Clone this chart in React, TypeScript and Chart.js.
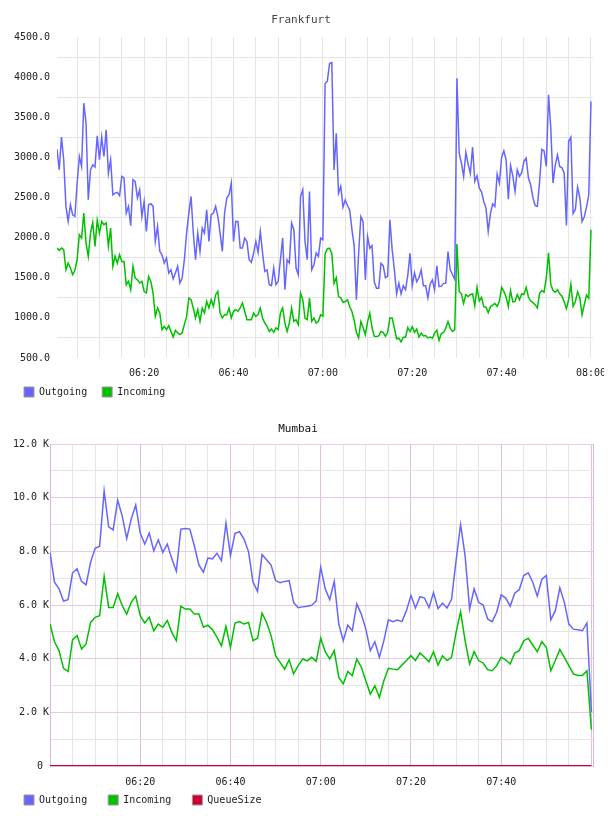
import React, { useEffect, useRef } from 'react';
import { Chart, registerables } from 'chart.js';

Chart.register(...registerables);

const FONT = '"DejaVu Sans Mono", monospace';
const BLUE = '#6666ff';
const GREEN = '#00c000';
const RED = '#cc0033';
const GRID_GREY = '#e4e4e4';
const GRID_PURPLE_H = '#e6cbe6';
const GRID_PURPLE_V = '#dcc0dc';
const BORDER_PURPLE = '#d8b8d8';

// ---------- Frankfurt (30 s samples, minutes after 06:00) ----------
const frankfurtStartMin = 0.5;
const frankfurtStepMin = 0.5;

const frankfurtOutgoing = [
  3103, 2845, 3252, 2970, 2389, 2202, 2410, 2285, 2264, 2671, 3011, 2887, 3675, 3426, 2472, 2845, 2908, 2879, 3268, 2970,
  3252, 3011, 3343, 2804, 2970, 2534, 2555, 2563, 2522, 2762, 2742, 2306, 2389, 2148, 2721, 2700, 2493, 2596, 2264, 2451,
  2077, 2410, 2422, 2389, 1953, 2140, 1829, 1787, 1683, 1746, 1559, 1600, 1484, 1559, 1642, 1434, 1496, 1725, 2057, 2306,
  2513, 2057, 1725, 2057, 1829, 2119, 2057, 2347, 1953, 2285, 2306, 2389, 2264, 2057, 1829, 2306, 2493, 2534, 2679, 1953,
  2202, 2202, 1870, 1870, 1994, 1953, 1725, 1691, 1808, 1953, 1816, 2077, 1808, 1580, 1600, 1413, 1401, 1621, 1413, 1455,
  1725, 1994, 1351, 1725, 1683, 2182, 2098, 1621, 1538, 2513, 2596, 1953, 1725, 2575, 1600, 1662, 1808, 1766, 1994, 1974,
  3920, 3950, 4170, 4180, 2843, 3300, 2553, 2640, 2380, 2470, 2400, 2345, 2100, 1900, 1225, 1806, 2262, 2200, 1474, 2014,
  1868, 1900, 1450, 1370, 1370, 1681, 1650, 1500, 1520, 2221, 1850, 1600, 1300, 1432, 1300, 1400, 1350, 1530, 1806, 1400,
  1560, 1450, 1500, 1598, 1400, 1400, 1250, 1420, 1474, 1349, 1650, 1390, 1395, 1430, 1432, 1826, 1600, 1540, 1480, 3985,
  3053, 2930, 2760, 3061, 2915, 2800, 3127, 2700, 2771, 2617, 2570, 2450, 2368, 2077, 2300, 2420, 2389, 2790, 2680, 3000,
  3080, 2970, 2480, 2900, 2770, 2576, 2845, 2762, 2810, 2950, 2990, 2742, 2660, 2500, 2400, 2389, 2700, 3100, 3080, 2887,
  3779, 3364, 2680, 2900, 3030, 2887, 2870, 2804, 2150, 3200, 3250, 2300, 2350, 2630, 2500, 2200, 2260, 2380, 2534, 3696,
];

const frankfurtIncoming = [
  1870, 1841, 1870, 1850, 1600, 1683, 1621, 1538, 1592, 1725, 2036, 1994, 2306, 1932, 1766, 2057, 2190, 1891, 2215, 2057,
  2202, 2161, 2182, 1891, 2119, 1642, 1766, 1683, 1787, 1704, 1704, 1413, 1455, 1351, 1642, 1496, 1475, 1434, 1455, 1330,
  1310, 1517, 1455, 1310, 1019, 1123, 1061, 853, 895, 853, 903, 832, 762, 845, 812, 791, 812, 916, 1019, 1247,
  1227, 1123, 998, 1102, 957, 1123, 1061, 1206, 1123, 1227, 1144, 1289, 1330, 1061, 998, 1040, 1040, 1123, 998, 1082,
  1102, 1082, 1123, 1185, 1082, 978, 978, 978, 1061, 1019, 1040, 1123, 998, 936, 895, 832, 862, 820, 874, 853,
  1061, 1123, 936, 832, 936, 1123, 957, 978, 916, 1310, 1227, 998, 978, 1247, 957, 998, 936, 957, 1040, 1019,
  1800, 1860, 1868, 1800, 1432, 1500, 1266, 1250, 1195, 1204, 1225, 1142, 1080, 970, 820, 750, 955, 880, 789, 950,
  1058, 880, 770, 768, 776, 830, 820, 770, 820, 1000, 1000, 870, 740, 747, 700, 760, 760, 880, 830, 890,
  820, 860, 760, 810, 775, 780, 750, 760, 747, 810, 845, 720, 805, 818, 872, 955, 872, 830, 850, 1920,
  1330, 1300, 1180, 1289, 1265, 1290, 1300, 1150, 1380, 1210, 1255, 1140, 1133, 1065, 1140, 1158, 1180, 1145, 1206, 1380,
  1330, 1260, 1140, 1340, 1200, 1205, 1290, 1225, 1300, 1290, 1380, 1260, 1210, 1190, 1165, 1123, 1305, 1340, 1320, 1500,
  1810, 1420, 1340, 1320, 1350, 1300, 1270, 1200, 1115, 1227, 1420, 1144, 1200, 1325, 1250, 1040, 1164, 1285, 1245, 2098,
];

const frankfurtYTicks = [500, 750, 1000, 1250, 1500, 1750, 2000, 2250, 2500, 2750, 3000, 3250, 3500, 3750, 4000, 4250, 4500];
const frankfurtXTicks = [5, 10, 15, 20, 25, 30, 35, 40, 45, 50, 55, 60, 65, 70, 75, 80, 85, 90, 95, 100, 105, 110, 115, 120];
const frankfurtXLabelMinutes = [20, 40, 60, 80, 100, 120];

// ---------- Mumbai (1 min samples, thousands) ----------
const mumbaiStartMin = 0;
const mumbaiStepMin = 1;

const mumbaiOutgoing = [
  7.96, 6.85, 6.6, 6.15, 6.2, 7.2, 7.35, 6.88, 6.75, 7.6,
  8.11, 8.19, 10.25, 8.91, 8.8, 9.91, 9.32, 8.48, 9.2, 9.73,
  8.68, 8.27, 8.68, 8.02, 8.43, 7.96, 8.27, 7.72, 7.26, 8.83,
  8.85, 8.83, 8.2, 7.49, 7.22, 7.75, 7.72, 7.93, 7.65, 9.05,
  7.84, 8.67, 8.73, 8.46, 7.99, 6.85, 6.51, 7.88, 7.69, 7.49,
  6.91, 6.83, 6.88, 6.91, 6.09, 5.9, 5.93, 5.95, 5.99, 6.15,
  7.41, 6.6, 6.2, 6.88, 5.29, 4.67, 5.25, 5.04, 6.04, 5.66,
  5.1, 4.3, 4.63, 4.05, 4.67, 5.45, 5.38, 5.44, 5.38, 5.79,
  6.36, 5.89, 6.31, 6.26, 5.9, 6.46, 5.86, 6.07, 5.89, 6.21,
  7.65, 9.0, 7.84, 5.85, 6.6, 6.1, 6.0, 5.48, 5.38, 5.73,
  6.38, 6.26, 5.96, 6.44, 6.57, 7.1, 7.2, 6.85, 6.33, 6.95,
  7.1, 5.45, 5.79, 6.64, 6.1, 5.29, 5.1, 5.08, 5.04, 5.33,
  2.0,
];

const mumbaiIncoming = [
  5.29, 4.63, 4.3, 3.64, 3.52, 4.71, 4.86, 4.36, 4.55, 5.35,
  5.54, 5.6, 7.07, 5.91, 5.91, 6.42, 5.98, 5.66, 6.1, 6.33,
  5.6, 5.33, 5.54, 5.04, 5.29, 5.17, 5.42, 4.98, 4.67, 5.95,
  5.85, 5.85, 5.66, 5.66, 5.17, 5.25, 5.08, 4.8, 4.48, 5.2,
  4.42, 5.33, 5.38, 5.29, 5.35, 4.67, 4.76, 5.7, 5.35, 4.86,
  4.11, 3.86, 3.61, 3.96, 3.43, 3.74, 3.99, 3.92, 4.05, 3.9,
  4.76, 4.26, 3.99, 4.3, 3.3, 3.06, 3.52, 3.37, 3.99, 3.68,
  3.18, 2.68, 2.99, 2.56, 3.18, 3.64, 3.61, 3.59, 3.76, 3.93,
  4.11, 3.93, 4.21, 4.05, 3.89, 4.26, 3.76, 4.11, 3.93, 4.05,
  4.98, 5.75, 4.67, 3.8, 4.26, 3.93, 3.84, 3.59, 3.55, 3.74,
  4.05, 3.96, 3.8, 4.21, 4.3, 4.67, 4.76, 4.51, 4.26, 4.63,
  4.42, 3.55, 3.93, 4.34, 4.05, 3.74, 3.43, 3.37, 3.37, 3.55,
  1.35,
];

const mumbaiQueueSize = [
  0, 0, 0, 0, 0, 0, 0, 0, 0, 0,
  0, 0, 0, 0, 0, 0, 0, 0, 0, 0,
  0, 0, 0, 0, 0, 0, 0, 0, 0, 0,
  0, 0, 0, 0, 0, 0, 0, 0, 0, 0,
  0, 0, 0, 0, 0, 0, 0, 0, 0, 0,
  0, 0, 0, 0, 0, 0, 0, 0, 0, 0,
  0, 0, 0, 0, 0, 0, 0, 0, 0, 0,
  0, 0, 0, 0, 0, 0, 0, 0, 0, 0,
  0, 0, 0, 0, 0, 0, 0, 0, 0, 0,
  0, 0, 0, 0, 0, 0, 0, 0, 0, 0,
  0, 0, 0, 0, 0, 0, 0, 0, 0, 0,
  0, 0, 0, 0, 0, 0, 0, 0, 0, 0,
  0,
];

const mumbaiYTicks = [0, 1, 2, 3, 4, 5, 6, 7, 8, 9, 10, 11, 12];
const mumbaiXTicks = [5, 10, 15, 20, 25, 30, 35, 40, 45, 50, 55, 60, 65, 70, 75, 80, 85, 90, 95, 100, 105, 110, 115, 120, 120.35];
const mumbaiXLabelMinutes = [20, 40, 60, 80, 100];

function fmtTime(min: number): string {
  const total = 6 * 60 + Math.round(min);
  const h = Math.floor(total / 60);
  const m = total % 60;
  return String(h).padStart(2, '0') + ':' + String(m).padStart(2, '0');
}

function series(values: number[], start: number, step: number) {
  return values.map((v, i) => ({ x: start + i * step, y: v }));
}

function legendLabels(chart: any) {
  return chart.data.datasets.map((ds: any, i: number) => ({
    text: ds.label,
    fillStyle: ds.borderColor,
    strokeStyle: '#999999',
    lineWidth: 1,
    hidden: false,
    datasetIndex: i,
    fontColor: '#222',
  }));
}

function lineDs(label: string, data: any[], color: string, width = 1.5) {
  return {
    label,
    data,
    borderColor: color,
    backgroundColor: color,
    borderWidth: width,
    pointRadius: 0,
    pointHoverRadius: 0,
    tension: 0,
    fill: false,
  };
}

// x-axis: fixed box height, no extra side padding for edge labels,
// labels drawn below the box (clipped only at the given right edge)
function fixXAxis(height: number, clipRight: number) {
  return (s: any) => {
    s.height = height;
    s.paddingLeft = 0;
    s.paddingRight = 0;
    s._computeLabelArea = () => ({ top: s.top, left: 0, bottom: s.chart.height, right: clipRight });
  };
}

function useChart(makeConfig: () => any) {
  const ref = useRef<HTMLCanvasElement | null>(null);
  useEffect(() => {
    if (!ref.current) return;
    const chart = new Chart(ref.current, makeConfig());
    return () => chart.destroy();
  }, []);
  return ref;
}

function frankfurtConfig() {
  return {
    type: 'line',
    data: {
      datasets: [
        lineDs('Outgoing', series(frankfurtOutgoing, frankfurtStartMin, frankfurtStepMin), BLUE),
        lineDs('Incoming', series(frankfurtIncoming, frankfurtStartMin, frankfurtStepMin), GREEN),
      ],
    },
    options: {
      responsive: false,
      animation: false,
      events: [],
      layout: { padding: { left: 9, right: 15, top: 0, bottom: 1 } },
      plugins: {
        title: {
          display: true,
          text: 'Frankfurt',
          color: '#444',
          font: { family: FONT, size: 11, weight: 'normal' },
          padding: { top: 13.4, bottom: 10.4 },
        },
        legend: {
          position: 'bottom',
          align: 'start',
          labels: {
            boxWidth: 10,
            boxHeight: 10,
            padding: 15,
            color: '#222',
            font: { family: FONT, size: 10 },
            generateLabels: legendLabels,
          },
        },
        tooltip: { enabled: false },
      },
      scales: {
        x: {
          type: 'linear',
          min: 0.5,
          max: 120.45,
          afterBuildTicks: (s: any) => { s.ticks = frankfurtXTicks.map((v) => ({ value: v })); },
          afterFit: fixXAxis(14, 604),
          grid: { color: GRID_GREY, drawTicks: false },
          border: { display: false },
          ticks: {
            autoSkip: false,
            maxRotation: 0,
            padding: 9,
            color: '#222',
            font: { family: FONT, size: 10 },
            callback: (v: number) => (frankfurtXLabelMinutes.includes(v) ? fmtTime(v) : ''),
          },
        },
        y: {
          type: 'linear',
          min: 500,
          max: 4500,
          afterBuildTicks: (s: any) => { s.ticks = frankfurtYTicks.map((v) => ({ value: v })); },
          afterFit: (s: any) => { s.width = 48; },
          grid: {
            color: (ctx: any) => (ctx.tick && ctx.tick.value % 500 === 0 ? 'rgba(0,0,0,0)' : GRID_GREY),
            drawTicks: false,
          },
          border: { display: false },
          ticks: {
            autoSkip: false,
            padding: 7,
            color: '#222',
            font: { family: FONT, size: 10 },
            callback: (v: number) => (v % 500 === 0 ? v.toFixed(1) : ''),
          },
        },
      },
    },
  };
}

function mumbaiConfig() {
  return {
    type: 'line',
    data: {
      datasets: [
        lineDs('Outgoing', series(mumbaiOutgoing, mumbaiStartMin, mumbaiStepMin), BLUE),
        lineDs('Incoming', series(mumbaiIncoming, mumbaiStartMin, mumbaiStepMin), GREEN),
        lineDs('QueueSize', series(mumbaiQueueSize, mumbaiStartMin, mumbaiStepMin), RED, 2),
      ],
    },
    options: {
      responsive: false,
      animation: false,
      events: [],
      layout: { padding: { left: 3, right: 15, top: 0, bottom: 1 } },
      plugins: {
        title: {
          display: true,
          text: 'Mumbai',
          color: '#111',
          font: { family: FONT, size: 11, weight: 'normal' },
          padding: { top: 14.1, bottom: 8.7 },
        },
        legend: {
          position: 'bottom',
          align: 'start',
          labels: {
            boxWidth: 10,
            boxHeight: 10,
            padding: 21,
            color: '#222',
            font: { family: FONT, size: 10 },
            generateLabels: legendLabels,
          },
        },
        tooltip: { enabled: false },
      },
      scales: {
        x: {
          type: 'linear',
          min: 0,
          max: 120.35,
          afterBuildTicks: (s: any) => { s.ticks = mumbaiXTicks.map((v) => ({ value: v })); },
          afterFit: fixXAxis(8, 608),
          grid: {
            color: (ctx: any) => {
              const v = ctx.tick ? ctx.tick.value : 0;
              if (v > 120.1) return BORDER_PURPLE;
              return v % 20 === 0 ? GRID_PURPLE_V : GRID_GREY;
            },
            drawTicks: false,
          },
          border: { display: true, color: BORDER_PURPLE },
          ticks: {
            autoSkip: false,
            maxRotation: 0,
            padding: 10,
            color: '#222',
            font: { family: FONT, size: 10 },
            callback: (v: number) => (mumbaiXLabelMinutes.includes(v) ? fmtTime(v) : ''),
          },
        },
        y: {
          type: 'linear',
          min: 0,
          max: 12,
          afterBuildTicks: (s: any) => { s.ticks = mumbaiYTicks.map((v) => ({ value: v })); },
          afterFit: (s: any) => { s.width = 47; },
          grid: {
            color: (ctx: any) => {
              const v = ctx.tick ? ctx.tick.value : 0;
              return v % 2 === 0 ? GRID_PURPLE_H : GRID_GREY;
            },
            drawTicks: false,
          },
          border: { display: true, color: BORDER_PURPLE },
          ticks: {
            autoSkip: false,
            padding: 1,
            color: '#222',
            font: { family: FONT, size: 10 },
            callback: (v: number) => (v === 0 ? '0 ' : v % 2 === 0 ? v.toFixed(1) + ' K' : ''),
          },
        },
      },
    },
  };
}

function FrankfurtChart() {
  const ref = useChart(frankfurtConfig);
  return <canvas ref={ref} width={608} height={408} style={{ display: 'block', width: 608, height: 408 }} />;
}

function MumbaiChart() {
  const ref = useChart(mumbaiConfig);
  return <canvas ref={ref} width={608} height={408} style={{ display: 'block', width: 608, height: 408 }} />;
}

export default function App() {
  return (
    <div style={{ position: 'absolute', left: 0, top: 0, width: 608, height: 816, background: '#fff' }}>
      <FrankfurtChart />
      <MumbaiChart />
    </div>
  );
}
